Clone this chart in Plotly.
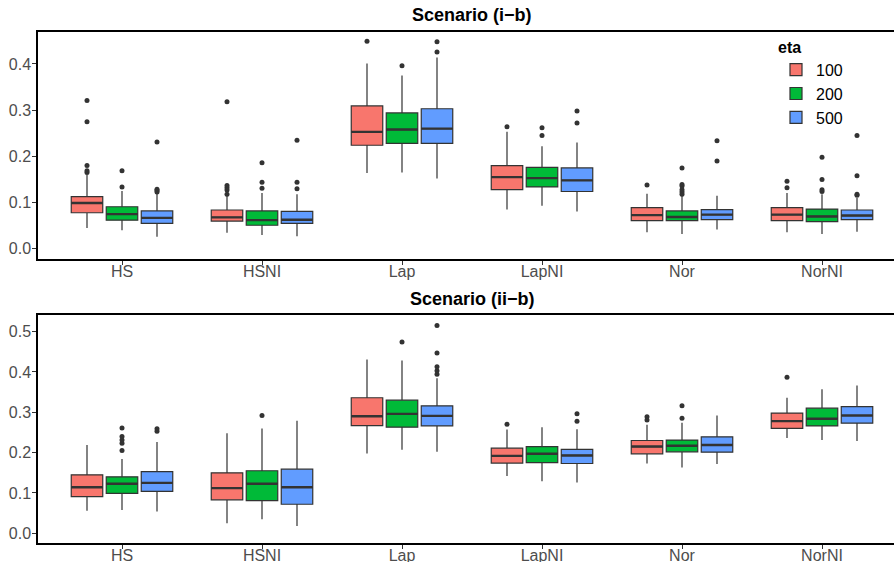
import plotly.graph_objects as go
from plotly.subplots import make_subplots

categories = ["HS", "HSNI", "Lap", "LapNI", "Nor", "NorNI"]
etas = ["100", "200", "500"]
colors = ["#F8766D", "#00BA38", "#619CFF"]
titles = ["Scenario (i\u2212b)", "Scenario (ii\u2212b)"]
yticks_top = [0.0, 0.1, 0.2, 0.3, 0.4]
yticks_bot = [0.0, 0.1, 0.2, 0.3, 0.4, 0.5]

# ---- Scenario (i-b) : per eta, per category ----
top_q1 = {
    "100": [0.078, 0.060, 0.224, 0.128, 0.061, 0.061],
    "200": [0.062, 0.051, 0.228, 0.134, 0.061, 0.059],
    "500": [0.055, 0.055, 0.228, 0.124, 0.063, 0.063],
}
top_med = {
    "100": [0.099, 0.068, 0.253, 0.155, 0.073, 0.074],
    "200": [0.075, 0.062, 0.258, 0.153, 0.069, 0.070],
    "500": [0.067, 0.063, 0.260, 0.148, 0.074, 0.072],
}
top_q3 = {
    "100": [0.113, 0.084, 0.309, 0.180, 0.089, 0.089],
    "200": [0.091, 0.082, 0.294, 0.176, 0.082, 0.086],
    "500": [0.082, 0.081, 0.303, 0.175, 0.085, 0.084],
}
top_lo = {
    "100": [0.045, 0.035, 0.164, 0.085, 0.036, 0.036],
    "200": [0.040, 0.030, 0.165, 0.093, 0.032, 0.032],
    "500": [0.026, 0.027, 0.152, 0.081, 0.042, 0.037],
}
top_hi = {
    "100": [0.160, 0.114, 0.401, 0.253, 0.119, 0.121],
    "200": [0.125, 0.121, 0.375, 0.222, 0.114, 0.118],
    "500": [0.120, 0.118, 0.414, 0.230, 0.115, 0.110],
}
top_out = {
    "100": [[0.165, 0.169, 0.180, 0.275, 0.321], [0.118, 0.127, 0.132, 0.137, 0.318],
            [0.449], [0.264], [0.138], [0.132, 0.146]],
    "200": [[0.134, 0.169], [0.131, 0.144, 0.186], [0.396], [0.245, 0.262],
            [0.118, 0.123, 0.128, 0.136, 0.139, 0.175], [0.124, 0.128, 0.150, 0.198]],
    "500": [[0.123, 0.126, 0.129, 0.231], [0.130, 0.144, 0.235], [0.426, 0.448],
            [0.272, 0.298], [0.190, 0.234], [0.116, 0.118, 0.158, 0.245]],
}

# ---- Scenario (ii-b) ----
bot_q1 = {
    "100": [0.091, 0.083, 0.267, 0.174, 0.197, 0.260],
    "200": [0.099, 0.081, 0.263, 0.175, 0.202, 0.266],
    "500": [0.104, 0.072, 0.266, 0.173, 0.201, 0.273],
}
bot_med = {
    "100": [0.114, 0.112, 0.290, 0.192, 0.215, 0.278],
    "200": [0.123, 0.123, 0.296, 0.197, 0.217, 0.284],
    "500": [0.125, 0.114, 0.291, 0.193, 0.219, 0.292],
}
bot_q3 = {
    "100": [0.145, 0.150, 0.336, 0.211, 0.230, 0.298],
    "200": [0.140, 0.155, 0.330, 0.215, 0.231, 0.310],
    "500": [0.153, 0.159, 0.316, 0.208, 0.239, 0.314],
}
bot_lo = {
    "100": [0.056, 0.025, 0.198, 0.142, 0.173, 0.236],
    "200": [0.058, 0.035, 0.207, 0.129, 0.163, 0.231],
    "500": [0.054, 0.018, 0.202, 0.126, 0.172, 0.229],
}
bot_hi = {
    "100": [0.219, 0.248, 0.431, 0.257, 0.269, 0.336],
    "200": [0.184, 0.260, 0.428, 0.263, 0.274, 0.357],
    "500": [0.226, 0.279, 0.384, 0.258, 0.292, 0.366],
}
bot_out = {
    "100": [[], [], [], [0.270], [0.281, 0.289], [0.387]],
    "200": [[0.205, 0.223, 0.231, 0.240, 0.261], [0.292], [0.474], [], [0.285, 0.316], []],
    "500": [[0.253, 0.259], [], [0.394, 0.403, 0.413, 0.447, 0.515], [0.278, 0.296], [], []],
}

FONT = "Liberation Sans, Arial, sans-serif"
fig = make_subplots(rows=2, cols=1, vertical_spacing=0.0)

panels = [
    (1, top_q1, top_med, top_q3, top_lo, top_hi, top_out),
    (2, bot_q1, bot_med, bot_q3, bot_lo, bot_hi, bot_out),
]
for row, q1, med, q3, lo, hi, out in panels:
    for eta, col in zip(etas, colors):
        # boxes with no outliers get their median as a (hidden, in-box) sample point
        pts = [o if len(o) else [m] for o, m in zip(out[eta], med[eta])]
        fig.add_trace(go.Box(
            x=categories,
            y=pts,
            q1=q1[eta], median=med[eta], q3=q3[eta],
            lowerfence=lo[eta], upperfence=hi[eta],
            name=eta, legendgroup=eta, showlegend=(row == 1),
            offsetgroup=eta, alignmentgroup=f"r{row}",
            boxpoints="outliers",
            fillcolor=col,
            line=dict(color="#333333", width=1.2),
            marker=dict(color="#333333", size=5, outliercolor="#333333",
                        line=dict(width=0)),
            whiskerwidth=0,
        ), row=row, col=1)
    # thicker median bars (ggplot's fatten=2), drawn as flat boxes in the same slots
    for eta in etas:
        fig.add_trace(go.Box(
            x=categories,
            q1=med[eta], median=med[eta], q3=med[eta],
            lowerfence=med[eta], upperfence=med[eta],
            name=eta, legendgroup=eta, showlegend=False,
            offsetgroup=eta, alignmentgroup=f"r{row}",
            boxpoints=False, fillcolor="rgba(0,0,0,0)",
            line=dict(color="#333333", width=2.4),
            whiskerwidth=0, hoverinfo="skip",
        ), row=row, col=1)

L, R, T, B = 38, 0, 32, 19
H = 562
plot_h = H - T - B
top_dom = [(543 - 259) / plot_h, 1.0]
bot_dom = [0.0, (543 - 315) / plot_h]

xrange = [-0.6, 5.6 - 12 / 140]
axis_common = dict(
    showline=True, linecolor="black", linewidth=1.5,
    ticks="outside", ticklen=4, tickcolor="#333333", tickwidth=1,
    showgrid=False, zeroline=False, automargin=False,
    tickfont=dict(family=FONT, size=16, color="#4D4D4D"),
)
fig.update_xaxes(range=xrange, mirror=True, ticklabelstandoff=-7, **axis_common)
fig.update_yaxes(ticklabelstandoff=-2, **axis_common)
fig.update_layout(
    xaxis=dict(domain=[0, 1]),
    xaxis2=dict(domain=[0, 1]),
    yaxis=dict(domain=top_dom, range=[-0.022, 0.469], tickvals=yticks_top,
               ticktext=[f"{v:.1f}" for v in yticks_top]),
    yaxis2=dict(domain=bot_dom, range=[-0.024, 0.541], tickvals=yticks_bot,
                ticktext=[f"{v:.1f}" for v in yticks_bot]),
)

title_x = (472 - L) / (894 - L)
for t, ypix in zip(titles, [15, 299]):
    fig.add_annotation(text=f"<b>{t}</b>", xref="paper", yref="paper",
                       x=title_x, y=(H - B - ypix) / plot_h, showarrow=False,
                       xanchor="center", yanchor="middle",
                       font=dict(family=FONT, size=18, color="black"))

fig.update_layout(
    width=894, height=562,
    margin=dict(l=L, r=R, t=T, b=B),
    paper_bgcolor="white", plot_bgcolor="white",
    boxmode="group", boxgap=0.25, boxgroupgap=0.1,
    legend=dict(
        title=dict(text="<b>eta</b>", font=dict(size=16, color="black")),
        x=(776 - L) / (894 - L), xanchor="left",
        y=(H - B - 32) / plot_h, yanchor="top",
        font=dict(family=FONT, size=16, color="black"),
        bgcolor="rgba(0,0,0,0)", tracegroupgap=0, itemwidth=30,
    ),
    font=dict(family=FONT),
)

fig.write_html("out.html", config={"displayModeBar": False},
               post_script="document.body.style.margin='0';document.body.style.overflow='hidden';")
